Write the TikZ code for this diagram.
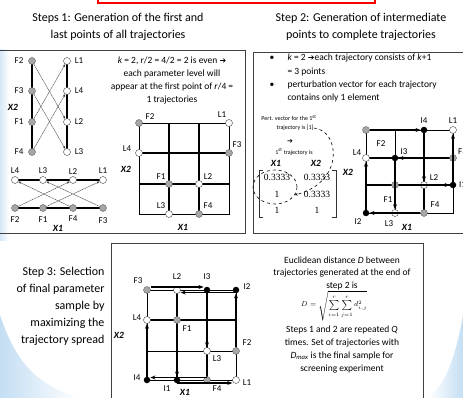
\documentclass[tikz,border=0pt]{standalone}
\usepackage{fontspec}
\setmainfont{Carlito}
\newfontfamily\timesf{Liberation Serif}
\newfontfamily\dejavu{DejaVu Sans}
\usetikzlibrary{arrows.meta,calc,shapes.geometric}
\definecolor{swoosh}{RGB}{196,222,243}
\begin{document}
\begin{tikzpicture}[x=1pt,y=-1pt,
 gp/.style={circle,fill=gray!70,draw=gray!60!black,line width=0.3pt,inner sep=0pt,minimum size=7pt},
 wp/.style={circle,fill=white,draw=gray!50!black,line width=0.4pt,inner sep=0pt,minimum size=7pt},
 bp/.style={circle,fill=black,inner sep=0pt,minimum size=6.5pt},
 lab/.style={font=\fontsize{9}{10}\selectfont,inner sep=0pt},
 axl/.style={font=\fontsize{9.5}{10}\selectfont\bfseries\itshape,inner sep=0pt},
 thk/.style={line width=1.8pt},
 med/.style={line width=1pt},
 thn/.style={line width=0.7pt},
 boxl/.style={line width=0.9pt,draw=black!75},
 parr/.style={-{Stealth[length=3pt,width=2.2pt]},gray!40!black,line width=0.4pt,dash pattern=on 1.2pt off 0.5pt},
 tarr/.style={-{Stealth[length=5pt,width=4pt]},line width=1.4pt},
 ttl/.style={font=\fontsize{12}{17}\selectfont,align=center},
 body/.style={font=\fontsize{9.5}{13}\selectfont,align=center},
 small/.style={font=\fontsize{6}{7}\selectfont,align=center,inner sep=0pt},
 mnum/.style={font=\timesf\fontsize{9.5}{10}\selectfont,inner sep=0pt}
]
\useasboundingbox (0,0) rectangle (463,398);
\fill[white] (0,0) rectangle (463,398);
% background swooshes
\shade[left color=swoosh,right color=white] (0,315) .. controls (15,360) and (35,385) .. (80,398) -- (0,398) -- cycle;
\shade[left color=white,right color=swoosh] (463,315) .. controls (455,360) and (445,385) .. (428,398) -- (463,398) -- cycle;
\shade[left color=swoosh!70,right color=white] (0,50) rectangle (9,240);
% red box at the top
\draw[red,line width=1.3pt] (98,-6) rectangle (375,3);
% titles
\node[ttl] (t1) at (118,27) {Steps 1: Generation of the first and\\last points of all trajectories};
\node[ttl] (t2) at (361,27) {Step 2: Generation of intermediate\\points to complete trajectories};
% panel frames
\draw[boxl] (-5,50) -- (245,50) -- (245,233) -- (-5,233);
\draw[boxl] (470,52) -- (253,52) -- (253,233) -- (470,233);
\draw[boxl] (111,405) -- (111,243) -- (423,243) -- (423,405);

% ===== Step 1 vertical diagram
\draw[line width=2pt] (32,61) -- (32,152);
\draw[line width=2pt] (67,61) -- (67,152);
\node[gp] (vF2) at (32,61) {};
\node[gp] (vF3) at (32,91) {};
\node[gp] (vF1) at (32,122) {};
\node[gp] (vF4) at (32,152) {};
\node[wp] (vL1) at (67,61) {};
\node[wp] (vL4) at (67,91) {};
\node[wp] (vL2) at (67,122) {};
\node[wp] (vL3) at (67,152) {};
\draw[parr] (vF2) -- (vL2);
\draw[parr] (vF3) -- (vL3);
\draw[parr] (vF1) -- (vL1);
\draw[parr] (vF4) -- (vL4);
\node[lab] (avF2) at (19,61) {F2};
\node[lab] (avF3) at (19,91) {F3};
\node[lab] (avF1) at (19,122) {F1};
\node[lab] (avF4) at (19,152) {F4};
\node[lab] (avL1) at (79,61) {L1};
\node[lab] (avL4) at (79,91) {L4};
\node[lab] (avL2) at (79,122) {L2};
\node[lab] (avL3) at (79,152) {L3};
\node[axl] (avX2) at (13,107) {X2};

% ===== Step 1 horizontal diagram
\draw[line width=2pt] (15,180) -- (103,180);
\draw[line width=1.5pt] (15,208) -- (103,208);
\node[wp] (hL4) at (15,180) {};
\node[wp] (hL3) at (43,180) {};
\node[wp] (hL2) at (73,180) {};
\node[wp] (hL1) at (103,180) {};
\node[gp] (hF2) at (15,208) {};
\node[gp] (hF1) at (43,208) {};
\node[gp] (hF4) at (73,208) {};
\node[gp] (hF3) at (103,208) {};
\draw[parr] (hF2) -- (hL2);
\draw[parr] (hF1) -- (hL1);
\draw[parr] (hF4) -- (hL4);
\draw[parr] (hF3) -- (hL3);
\node[lab] (ahL4) at (15,171) {L4};
\node[lab] (ahL3) at (43,171) {L3};
\node[lab] (ahL2) at (73,172) {L2};
\node[lab] (ahL1) at (103,171) {L1};
\node[lab] (ahF2) at (15,220) {F2};
\node[lab] (ahF1) at (43,220) {F1};
\node[lab] (ahF4) at (73,219) {F4};
\node[lab] (ahF3) at (103,221) {F3};
\node[axl] (ahX1) at (58,228) {X1};

% ===== Step 1 text
\node[body] (s1txt) at (172,80.5) {\textit{k} = 2, \textit{r}/2 = 4/2 = 2 is even {\dejavu\fontsize{8}{9}\selectfont ➔}\\each parameter level will\\appear at the first point of \textit{r}/4 =\\1 trajectories};

% ===== Step 1 grid
\draw[thn] (139,123) rectangle (229,214);
\draw[thk] (169,123) -- (169,214);
\draw[thk] (199,123) -- (199,214);
\draw[thk] (139,153) -- (229,153);
\draw[thk] (139,184) -- (229,184);
\node[gp] (gF2) at (139,123) {};
\node[wp] (gL1) at (229,123) {};
\node[wp] (gL4) at (139,153) {};
\node[gp] (gF3) at (229,153) {};
\node[gp] (gF1) at (169,184) {};
\node[wp] (gL2) at (199,184) {};
\node[wp] (gL3) at (169,214) {};
\node[gp] (gF4) at (199,214) {};
\node[lab] (agF2) at (150,117) {F2};
\node[lab] (agL1) at (222,115) {L1};
\node[lab] (agL4) at (127,149) {L4};
\node[lab] (agF3) at (237,145) {F3};
\node[lab] (agF1) at (161,177) {F1};
\node[lab] (agL2) at (208,177) {L2};
\node[lab] (agL3) at (161,206) {L3};
\node[lab] (agF4) at (208,206) {F4};
\node[axl] (agX2) at (126,169) {X2};
\node[axl] (agX1) at (183,227) {X1};

% ===== Step 2 bullets
\node[body] (b1) at (272,58) {•};
\node[body,anchor=west] (b1a) at (284,58) {\textit{k} = 2 {\dejavu\fontsize{8}{9}\selectfont ➔}each trajectory consists of \textit{k}+1};
\node[body,anchor=west] (b1b) at (284,72) {= 3 points};
\node[body] (b2) at (272,85) {•};
\node[body,anchor=west] (b2a) at (284,85) {perturbation vector for each trajectory};
\node[body,anchor=west] (b2b) at (284,98) {contains only 1 element};

% ===== Step 2 matrix part
\node[small] (pv1) at (289,118) {Pert. vector for the 1\textsuperscript{st}};
\node[small] (pv2) at (295,128) {trajectory is [1]};
\node[font=\dejavu\fontsize{7}{8}\selectfont,inner sep=0pt] (pv3) at (290,142) {➔};
\node[small] (pv4) at (294,152) {1\textsuperscript{st} trajectory is};
\node[axl] (mX1) at (276,163) {X1};
\node[axl] (mX2) at (316,163) {X2};
\node[mnum] (m11) at (277,177) {0.3333};
\node[mnum] (m12) at (317,177) {0.3333};
\node[mnum] (m21) at (277,194) {1};
\node[mnum] (m22) at (317,194) {0.3333};
\node[mnum] (m31) at (277,210) {1};
\node[mnum] (m32) at (317,210) {1};
\draw[gray!40!black,line width=0.5pt] (263,170) -- (259,170) -- (259,217) -- (263,217);
\draw[gray!40!black,line width=0.5pt] (332,170) -- (336,170) -- (336,217) -- (332,217);
\node[ellipse,draw,dashed,line width=0.6pt,minimum width=44pt,minimum height=34pt,inner sep=0pt] (ell) at (275,187) {};
\draw[dashed,line width=0.6pt,-{Stealth[length=3pt,width=2.5pt]}] (pv2.east) .. controls (340,130) and (345,182) .. (ell.-22);

% ===== Step 2 grid
\draw[thn] (366,130) rectangle (453,213);
\draw[med] (395,130) -- (395,213);
\draw[thk] (424,130) -- (424,213);
\draw[thk] (366,158) -- (453,158);
\draw[thk] (366,185) -- (453,185);
\node[gp] (qF2) at (366,130) {};
\node[bp] (qI4) at (424,130) {};
\node[wp] (qL1) at (453,130) {};
\node[wp] (qL4) at (366,158) {};
\node[bp] (qI3) at (395,158) {};
\node[gp] (qF3) at (453,158) {};
\node[gp] (qF1) at (395,185) {};
\node[wp] (qL2) at (424,185) {};
\node[bp] (qI1) at (453,185) {};
\node[bp] (qI2) at (366,213) {};
\node[wp] (qL3) at (395,213) {};
\node[gp] (qF4) at (424,213) {};
\draw[tarr] (qF1) -- (qI1);
\draw[tarr] (qI1) -- (qL1);
\draw[tarr] (qF2) -- (qI4);
\draw[tarr] (qI4) -- (qL2);
\draw[tarr] (qF3) -- (qI3);
\draw[tarr] (qI3) -- (qL3);
\draw[tarr] (qF4) -- (qI2);
\draw[tarr] (qI2) -- (qL4);
\node[lab] (aqF2) at (381,144) {F2};
\node[lab] (aqI4) at (424,121) {I4};
\node[lab] (aqL1) at (453,121) {L1};
\node[lab] (aqL4) at (357,153) {L4};
\node[lab] (aqI3) at (404,152) {I3};
\node[lab,anchor=west] (aqF3) at (458,152) {F3};
\node[lab] (aqF1) at (388,200) {F1};
\node[lab] (aqL2) at (434,178) {L2};
\node[lab,anchor=west] (aqI1) at (459,185) {I1};
\node[lab] (aqI2) at (358,222) {I2};
\node[lab] (aqL3) at (389,224) {L3};
\node[lab] (aqF4) at (435,205) {F4};
\node[axl] (aqX2) at (348,172) {X2};
\node[axl] (aqX1) at (407,227) {X1};

% ===== Step 3 left text
\node[ttl,align=right,anchor=east] (s3t) at (108,306.5) {Step 3: Selection\\of final parameter\\sample by\\maximizing the\\trajectory spread};

% ===== Step 3 grid
\draw[thn] (147,290) rectangle (236,380);
\draw[thk] (177,290) -- (177,380);
\draw[thk] (207,290) -- (207,380);
\draw[thk] (147,320) -- (236,320);
\draw[med] (147,351) -- (236,351);
\node[gp] (rF3) at (147,290) {};
\node[wp] (rL2) at (177,290) {};
\node[bp] (rI3) at (207,290) {};
\node[bp] (rI2) at (236,290) {};
\node[wp] (rL4) at (147,320) {};
\node[gp] (rF1) at (177,320) {};
\node[wp] (rL3) at (207,351) {};
\node[gp] (rF2) at (236,351) {};
\node[bp] (rI4) at (147,380) {};
\node[bp] (rI1) at (177,380) {};
\node[gp] (rF4) at (207,380) {};
\node[wp] (rL1) at (236,380) {};
\draw[tarr] (rF1) -- (rI1);
\draw[tarr] ($(rI1)+(0,3)$) -- ($(rL1.west)+(0,3)$);
\draw[tarr] (rF2) -- (rI2);
\draw[tarr] ($(rI2)+(0,2.5)$) -- ($(rL2.east)+(0,2.5)$);
\draw[tarr] ($(rF3.east)+(0,-3)$) -- ($(rI3.west)+(0,-3)$);
\draw[tarr] (rI3) -- (rL3);
\draw[tarr] ($(rF4)+(0,-2.5)$) -- ($(rI4.east)+(0,-2.5)$);
\draw[tarr] (rI4) -- (rL4);
\node[lab] (arF3) at (138,281) {F3};
\node[lab] (arL2) at (177,277) {L2};
\node[lab] (arI3) at (207,277) {I3};
\node[lab] (arI2) at (247,287) {I2};
\node[lab] (arL4) at (137,318) {L4};
\node[lab] (arF1) at (187,329) {F1};
\node[lab] (arL3) at (217,359) {L3};
\node[lab] (arF2) at (247,343) {F2};
\node[lab] (arI4) at (137,378) {I4};
\node[lab] (arI1) at (167,389) {I1};
\node[lab] (arF4) at (217,389) {F4};
\node[lab] (arL1) at (247,383) {L1};
\node[axl] (arX2) at (119,335) {X2};
\node[axl] (arX1) at (185,392) {X1};

% ===== Step 3 right text
\node[font=\fontsize{9.5}{12.5}\selectfont,align=center] (s3r1) at (342,273) {Euclidean distance \textit{D} between\\trajectories generated at the end of\\step 2 is};
\node[font=\fontsize{7.5}{8}\selectfont,inner sep=0pt] (s3f) at (334,306) {$D=\sqrt{\sum\limits_{i=1}^{r}\sum\limits_{j=1}^{r}d_{i,j}^{2}}$};
\node[font=\fontsize{9.5}{13}\selectfont,align=center] (s3r2) at (342,350) {Steps 1 and 2 are repeated \textit{Q}\\times. Set of trajectories with\\\textit{D}\textsubscript{\textit{max}} is the final sample for\\screening experiment};
\end{tikzpicture}
\end{document}
